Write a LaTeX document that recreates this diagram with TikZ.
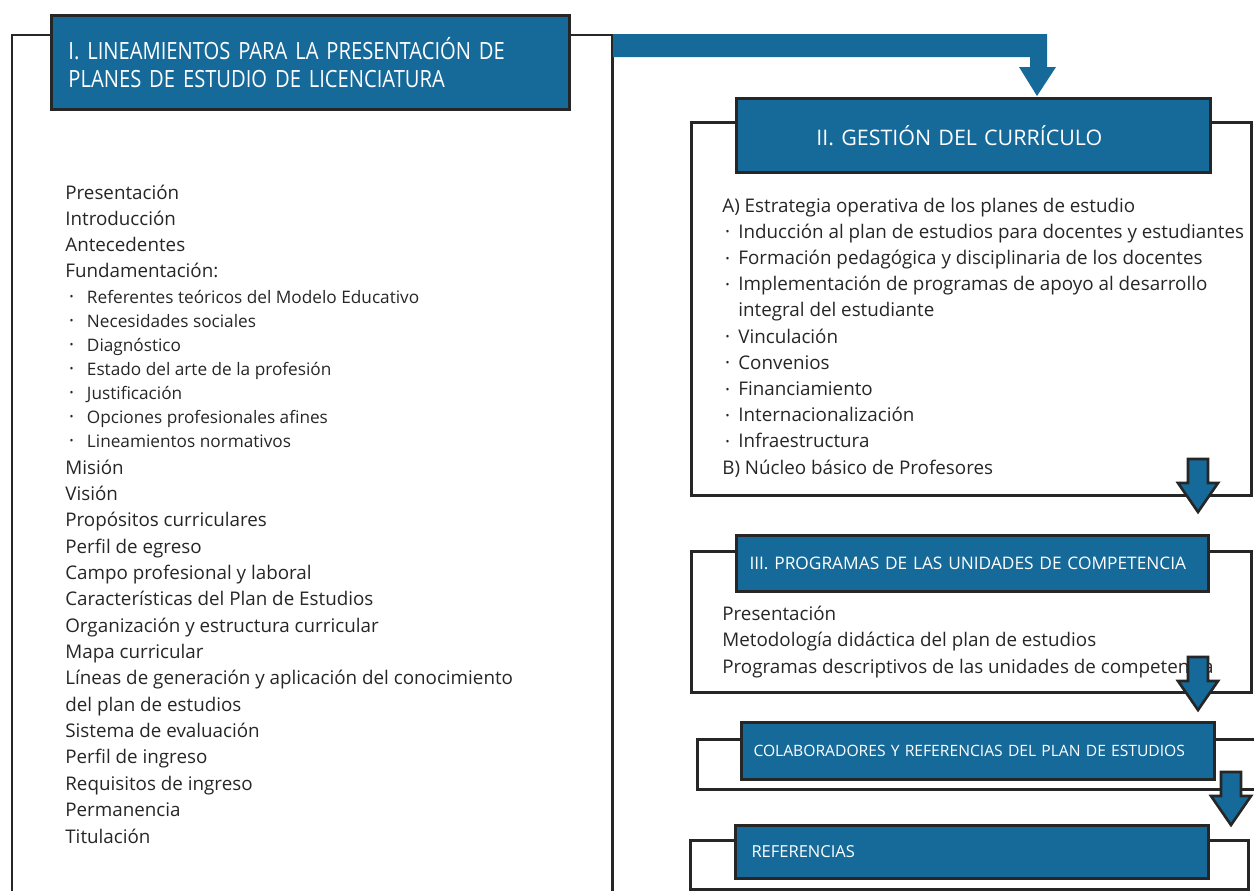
\documentclass[tikz,border=0pt]{standalone}
\usepackage{fontspec}
\setmainfont{Open Sans}
\newfontfamily\condfont[FakeStretch=0.85]{Open Sans}
\definecolor{boxblue}{RGB}{22,106,154}
\definecolor{inkgray}{RGB}{38,38,38}
\newcommand{\dotmark}{\raisebox{1.3pt}{\fontsize{6}{6}\selectfont •}}
\newcommand{\lbul}{\makebox[12.3pt][l]{\hspace{2.5pt}\dotmark}}
\newcommand{\rbul}{\makebox[9.1pt][l]{\hspace{1.8pt}\dotmark}}
\newcommand{\downblock}[2]{\filldraw[blockarrow] (#1-10,#2) -- (#1+10,#2) -- (#1+10,#2+24) -- (#1+20,#2+24) -- (#1,#2+53) -- (#1-20,#2+24) -- (#1-10,#2+24) -- cycle;}
\tikzset{
  frame/.style={draw=inkgray, line width=1.7pt},
  titlebox/.style={draw=inkgray, line width=1.7pt, fill=boxblue, text=white, inner ysep=0pt, anchor=north west, align=left},
  entry/.style={anchor=base west, inner sep=0pt, text=inkgray, font=\fontsize{10.7}{12}\selectfont},
  subentry/.style={entry, font=\fontsize{9.8}{11}\selectfont},
  blockarrow/.style={fill=boxblue, draw=inkgray, line width=1.5pt, line join=miter},
}

\begin{document}
\begin{tikzpicture}[x=0.02cm, y=-0.02cm]
\useasboundingbox (0,0) rectangle (1254,890);
\clip (0,0) rectangle (1254,890);

% frames
\draw[frame] (12,35) rectangle (612,920);
\draw[frame] (691,122) rectangle (1251,495);
\draw[frame] (691,551) rectangle (1251,692);
\draw[frame] (697,739) rectangle (1270,789);
\draw[frame] (690,840) rectangle (1248,889);

% big arrow I -> II
\fill[boxblue] (613,34) -- (1047,34) -- (1047,67) -- (1056,67) -- (1037,96) -- (1019,67) -- (1030,67) -- (1030,57) -- (613,57) -- cycle;

% title boxes
\node[titlebox, minimum width=10.36cm, minimum height=1.88cm, inner xsep=0.34cm, text width=9.68cm,
  font=\condfont\fontsize{13.5}{16}\selectfont] (lin) at (50,14)
  {I. LINEAMIENTOS PARA LA PRESENTACIÓN DE\\PLANES DE ESTUDIO DE LICENCIATURA};
\node[titlebox, minimum width=9.48cm, minimum height=1.48cm, inner xsep=1.6cm, text width=6.28cm,
  font=\fontsize{12.2}{15}\selectfont] (ges) at (735,97) {II. GESTIÓN DEL CURRÍCULO};
\node[titlebox, minimum width=9.44cm, minimum height=1.12cm, inner xsep=0.26cm, text width=8.92cm,
  font=\fontsize{9.85}{11}\selectfont] (prog) at (735,534) {III. PROGRAMAS DE LAS UNIDADES DE COMPETENCIA};
\node[titlebox, minimum width=9.46cm, minimum height=1.14cm, inner xsep=0.24cm, text width=8.98cm,
  font=\fontsize{8.9}{10}\selectfont] (colab) at (740,721) {COLABORADORES Y REFERENCIAS DEL PLAN DE ESTUDIOS};
\node[titlebox, minimum width=9.46cm, minimum height=1.06cm, inner xsep=0.32cm, text width=8.82cm,
  font=\fontsize{9.4}{10}\selectfont] (refs) at (734,824) {REFERENCIAS};

% contents of I
\foreach \t [count=\i from 0] in {Presentación, Introducción, Antecedentes, Fundamentación:}
  \node[entry] (pre\i) at (65,199+26.3*\i) {\t};
\foreach \t [count=\i from 0] in {Referentes teóricos del Modelo Educativo, Necesidades sociales,
  Diagnóstico, Estado del arte de la profesión, Justificación, Opciones profesionales afines,
  Lineamientos normativos}
  \node[subentry] (fun\i) at (65,303+24*\i) {\lbul\t};
\foreach \t [count=\i from 0] in {Misión, Visión, Propósitos curriculares, Perfil de egreso,
  Campo profesional y laboral, Características del Plan de Estudios, Organización y estructura curricular,
  Mapa curricular, Líneas de generación y aplicación del conocimiento, del plan de estudios,
  Sistema de evaluación, Perfil de ingreso, Requisitos de ingreso, Permanencia, Titulación}
  \node[entry] (mis\i) at (65,474+26.36*\i) {\t};

% contents of II
\node[entry] (est) at (722,212) {A) Estrategia operativa de los planes de estudio};
\foreach \t [count=\i] in {Inducción al plan de estudios para docentes y estudiantes,
  Formación pedagógica y disciplinaria de los docentes, Implementación de programas de apoyo al desarrollo}
  \node[entry] (est\i) at (722,212+26.2*\i) {\rbul\t};
\node[entry] (est4) at (738,212+26.2*4) {integral del estudiante};
\foreach \t [count=\i from 5] in {Vinculación, Convenios, Financiamiento, Internacionalización, Infraestructura}
  \node[entry] (est\i) at (722,212+26.2*\i) {\rbul\t};
\node[entry] (nuc) at (722,212+26.2*10) {B) Núcleo básico de Profesores};

% contents of III
\foreach \t [count=\i from 0] in {Presentación, Metodología didáctica del plan de estudios,
  Programas descriptivos de las unidades de competencia}
  \node[entry] (pro\i) at (722,620+26.5*\i) {\t};

% arrows between the blocks
\downblock{1198}{459}
\downblock{1198}{657}
\downblock{1231}{772}
\end{tikzpicture}
\end{document}
